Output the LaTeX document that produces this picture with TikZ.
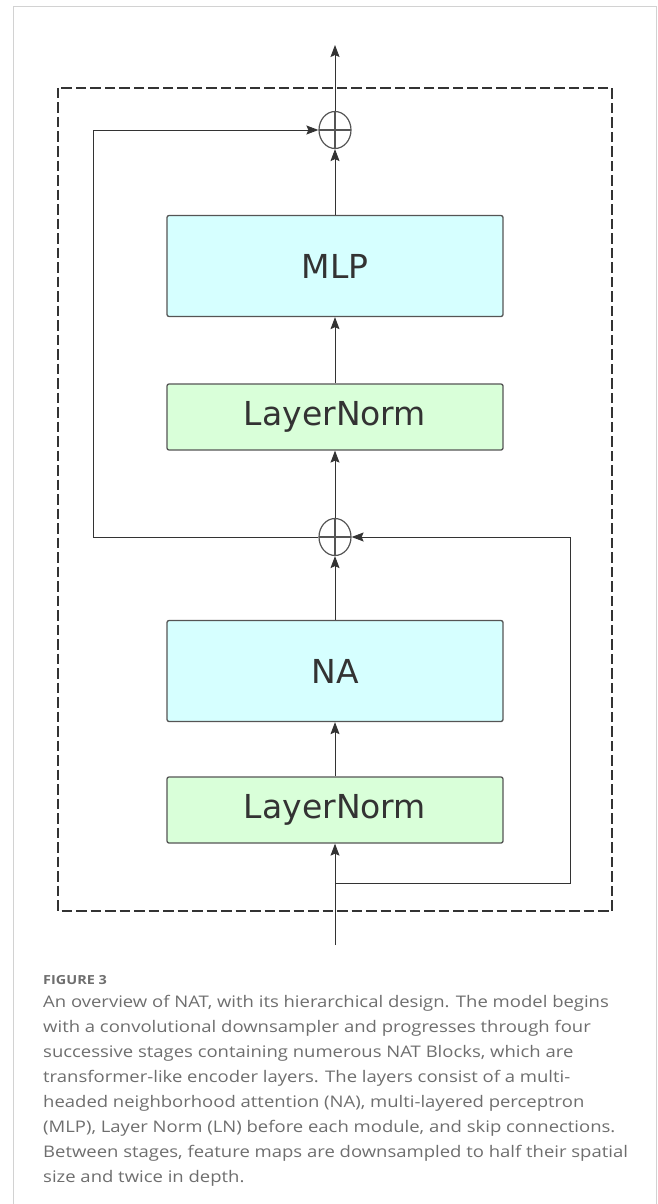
\documentclass[tikz,border=0pt]{standalone}
\usepackage{fontspec}
\newfontfamily\blockfont{DejaVu Sans}
\newfontfamily\capfont[FakeStretch=1.155]{Open Sans}
\usetikzlibrary{positioning}
\usetikzlibrary{shapes.geometric}
\usetikzlibrary{arrows.meta}

\definecolor{nacyan}{HTML}{D6FFFF}
\definecolor{lngreen}{HTML}{D9FFD9}
\definecolor{edgegray}{HTML}{555555}
\definecolor{textgray}{HTML}{333333}
\definecolor{capgray}{HTML}{6E6E6E}

\tikzset{
  block/.style={draw=edgegray, line width=1.3pt, rounded corners=2pt,
    minimum width=336pt, inner sep=0pt, text=textgray,
    font={\blockfont\fontsize{33}{39}\selectfont}},
  attn/.style={block, fill=nacyan, minimum height=101pt},
  norm/.style={block, fill=lngreen, minimum height=66pt},
  add/.style={ellipse, draw=edgegray, line width=1.2pt, minimum width=32pt,
    minimum height=37pt, inner sep=0pt,
    path picture={\draw[edgegray, line width=1.2pt]
      (path picture bounding box.north) -- (path picture bounding box.south)
      (path picture bounding box.west) -- (path picture bounding box.east);}},
  flow/.style={textgray, line width=0.9pt,
    -{Stealth[length=12pt,width=9pt,inset=2pt]}},
}

\begin{document}
\begin{tikzpicture}[x=1pt,y=-1pt]
  \useasboundingbox (0,0) rectangle (658,1204);
  % page frame, open at the bottom
  \draw[gray!35, line width=1pt] (13.5,1210) -- (13.5,6.5) -- (656,6.5) -- (656,1210);
  % the NAT block
  \draw[textgray, line width=2pt, dash pattern=on 10.5pt off 4pt] (58,88) rectangle (612,911);

  \node[norm] (ln1) at (335,810) {LayerNorm};
  \node[attn] (na) at (335,671) {NA};
  \node[add] (add1) at (335,537) {};
  \node[norm] (ln2) at (335,417) {LayerNorm};
  \node[attn] (mlp) at (335,266) {MLP};
  \node[add] (add2) at (335,130) {};

  \coordinate (in) at (335,945);
  \coordinate (fork) at (335,883);
  \coordinate (out) at (335,45);
  \coordinate (skipR) at (570,883);
  \coordinate (skipL) at (93,130);

  \path[flow]
    (in) edge (ln1)
    (ln1) edge (na)
    (na) edge (add1)
    (add1) edge (ln2)
    (ln2) edge (mlp)
    (mlp) edge (add2)
    (add2) edge (out);

  % skip connections
  \draw[flow] (fork) -- (skipR) |- (add1);
  \draw[flow] (add1) -| (skipL) -- (add2);

  \node[anchor=base west, inner sep=0pt, text=capgray,
    font={\capfont\bfseries\fontsize{12.5}{15}\selectfont}] (fig) at (43,984.5) {FIGURE 3};
  \node[anchor=north west, inner sep=0pt, align=left, text=capgray,
    font={\capfont\fontsize{16}{25}\selectfont}] (caption) at (43,995.5)
    {An overview of NAT, with its hierarchical design. The model begins\\
     with a convolutional downsampler and progresses through four\\
     successive stages containing numerous NAT Blocks, which are\\
     transformer-like encoder layers. The layers consist of a multi-\\
     headed neighborhood attention (NA), multi-layered perceptron\\
     (MLP), Layer Norm (LN) before each module, and skip connections.\\
     Between stages, feature maps are downsampled to half their spatial\\
     size and twice in depth.};
\end{tikzpicture}
\end{document}
